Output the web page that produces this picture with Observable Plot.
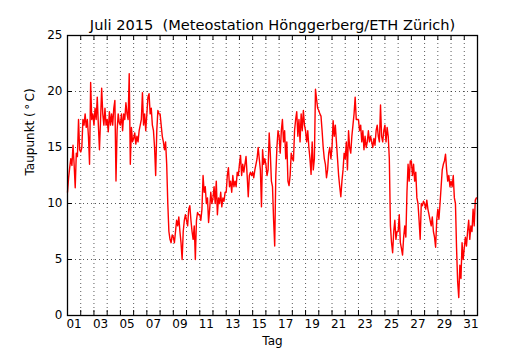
<!DOCTYPE html>
<html>
<head>
<meta charset="utf-8">
<script src="https://cdn.jsdelivr.net/npm/d3@7"></script>
<script src="https://cdn.jsdelivr.net/npm/@observablehq/plot@0.6"></script>
<style>
  html, body { margin: 0; padding: 0; background: #fff; }
</style>
</head>
<body>
<div id="chart"></div>
<script>
// Dew point (°C), Meteostation Hönggerberg, July 2015, every 2 hours from 1 July 00:00
const stepHours = 2;
const dewpoint = [
  11.0, 12.3, 13.2, 14.0, 13.4, 15.2, 13.5, 11.4, 14.5, 14.2, 17.5, 14.8, // 01
  14.6, 15.0, 17.5, 17.0, 18.0, 16.8, 17.5, 16.0, 13.5, 20.8, 17.5, 18.0, // 02
  17.0, 18.5, 17.5, 19.5, 17.0, 14.8, 17.5, 20.3, 18.0, 17.0, 18.5, 17.0, // 03
  17.5, 16.4, 18.2, 17.0, 18.0, 17.0, 18.5, 19.2, 12.0, 16.5, 18.0, 17.2, // 04
  17.0, 18.0, 16.5, 18.0, 17.5, 19.0, 18.0, 17.5, 21.6, 13.5, 16.8, 15.5, // 05
  15.8, 16.3, 15.3, 16.0, 15.5, 16.5, 17.0, 17.5, 19.9, 17.0, 18.0, 16.5, // 06
  18.0, 19.5, 19.8, 18.0, 18.5, 17.0, 16.5, 15.0, 12.5, 16.5, 18.3, 18.0, // 07
  18.0, 17.0, 16.0, 15.5, 14.8, 15.5, 13.5, 10.0, 7.5, 6.8, 6.5, 7.2,     // 08
  7.0, 6.5, 7.5, 8.5, 8.0, 8.8, 7.5, 6.5, 5.0, 7.5, 8.5, 9.0,             // 09
  8.5, 8.0, 9.5, 9.8, 8.5, 7.5, 6.8, 8.0, 5.0, 8.5, 9.2, 9.0,             // 10
  9.0, 8.5, 9.5, 12.5, 11.0, 11.5, 10.0, 10.5, 8.3, 9.5, 11.0, 10.0,      // 11
  10.5, 11.5, 10.0, 12.0, 9.0, 10.5, 10.0, 11.0, 9.7, 10.5, 10.2, 11.0,   // 12
  11.0, 12.5, 13.2, 11.5, 12.0, 11.0, 12.5, 11.5, 12.0, 11.5, 12.8, 12.5, // 13
  13.5, 14.3, 12.5, 13.5, 12.8, 13.5, 14.2, 12.5, 10.6, 12.5, 12.8, 12.5, // 14
  12.8, 12.3, 13.0, 13.5, 14.0, 15.0, 14.0, 13.0, 9.7, 14.8, 13.5, 14.0,  // 15
  13.5, 12.5, 13.0, 16.3, 14.5, 12.0, 11.5, 8.5, 6.2, 12.5, 15.0, 16.5,   // 16
  16.0, 14.5, 16.5, 17.5, 15.5, 16.5, 14.0, 15.5, 12.0, 11.6, 12.5, 14.5, // 17
  14.0, 13.8, 16.5, 17.5, 18.2, 16.0, 17.5, 15.5, 18.0, 16.5, 18.3, 17.0, // 18
  16.5, 15.5, 16.5, 15.0, 14.0, 12.6, 15.5, 13.0, 14.0, 20.2, 19.3, 18.5, // 19
  18.3, 18.0, 17.8, 16.5, 15.0, 14.0, 13.5, 12.3, 13.0, 14.5, 15.0, 14.0, // 20
  15.0, 17.4, 16.0, 17.0, 15.5, 14.0, 12.5, 11.5, 10.6, 12.0, 13.0, 14.5, // 21
  14.0, 15.5, 13.0, 16.5, 15.0, 14.5, 16.0, 17.0, 18.0, 19.5, 17.5, 17.5, // 22
  17.5, 16.5, 17.0, 15.5, 16.5, 14.8, 16.0, 15.0, 15.5, 16.5, 15.5, 16.0, // 23
  15.5, 15.0, 15.8, 15.2, 16.5, 17.0, 16.0, 15.5, 18.8, 16.0, 15.5, 16.5, // 24
  17.0, 15.5, 16.8, 16.0, 14.0, 8.0, 6.5, 5.6, 7.5, 8.5, 6.8, 7.5,        // 25
  7.5, 9.0, 6.5, 6.0, 5.4, 7.0, 8.0, 7.0, 11.0, 13.5, 12.0, 13.8,         // 26
  13.8, 12.5, 13.5, 12.0, 12.8, 10.5, 10.0, 8.5, 6.8, 10.0, 9.8, 10.2,    // 27
  10.0, 9.5, 10.3, 9.5, 9.0, 8.5, 8.0, 8.8, 7.5, 7.0, 6.1, 8.5,           // 28
  9.5, 8.6, 10.0, 11.5, 13.0, 13.5, 13.8, 14.4, 13.0, 12.0, 12.5, 11.5,   // 29
  12.0, 11.5, 12.5, 10.5, 10.0, 6.0, 3.0, 1.6, 4.5, 3.3, 6.5, 5.0,        // 30
  6.0, 7.0, 6.2, 7.5, 8.5, 6.8, 8.0, 7.5, 9.5, 8.0, 10.3, 10.5            // 31
];

const xTickLabels = ["01","03","05","07","09","11","13","15","17","19","21","23","25","27","29","31"];
const yTicks = [0, 5, 10, 15, 20, 25];
const yGrid = [5, 10, 15, 20];
const titleText = "Juli 2015 \u00a0(Meteostation Hönggerberg/ETH Zürich)";
const xLabel = "Tag";
const yLabel = "Taupunkt (\u2009°\u2009C)";

const start = new Date(Date.UTC(2015, 6, 1));
const end = new Date(Date.UTC(2015, 7, 1));
const data = dewpoint.map((v, i) => ({t: new Date(start.getTime() + i * stepHours * 3600e3), v}));
const dayBounds = d3.utcDay.range(start, new Date(end.getTime() + 1));
const dayInner = dayBounds.slice(1, -1);

const W = 530, H = 350;
const mL = 67, mR = 53, mT = 35, mB = 35;
const frameW = W - mL - mR, frameH = H - mT - mB;
const tickLen = 5;
const dotted = {stroke: "#000", strokeOpacity: 0.65, strokeWidth: 1, strokeDasharray: "1,3"};

const chart = Plot.plot({
  width: W,
  height: H,
  marginLeft: mL,
  marginRight: mR,
  marginTop: mT,
  marginBottom: mB,
  style: {fontFamily: "'DejaVu Sans', sans-serif", fontSize: "12px", background: "#fff", color: "#000"},
  x: {type: "utc", domain: [start, end], axis: null},
  y: {domain: [0, 25], axis: null},
  marks: [
    // dotted grid
    Plot.ruleX(dayInner, {x: d => d, ...dotted}),
    Plot.ruleY(yGrid, {y: d => d, ...dotted}),
    // data line
    Plot.lineY(data, {x: "t", y: "v", stroke: "#ff0000", strokeWidth: 1.4}),
    // inward ticks (bottom/top)
    Plot.ruleX(dayBounds, {x: d => d, insetTop: frameH - tickLen, stroke: "#000"}),
    Plot.ruleX(dayBounds, {x: d => d, insetBottom: frameH - tickLen, stroke: "#000"}),
    // inward ticks (left/right)
    Plot.ruleY(yTicks, {y: d => d, insetRight: frameW - tickLen, stroke: "#000"}),
    Plot.ruleY(yTicks, {y: d => d, insetLeft: frameW - tickLen, stroke: "#000"}),
    // frame
    Plot.frame({stroke: "#000", strokeWidth: 1.3}),
    // tick labels
    Plot.text(xTickLabels, {x: d => new Date(Date.UTC(2015, 6, +d, 12)), frameAnchor: "bottom", dy: 12, text: d => d, fontSize: 12, fill: "#000"}),
    Plot.text(yTicks, {y: d => d, frameAnchor: "left", dx: -5, textAnchor: "end", text: d => String(d), fontSize: 12, fill: "#000"}),
    // axis labels
    Plot.text([xLabel], {frameAnchor: "bottom", dy: 29, text: d => d, fontSize: 12, fill: "#000"}),
    Plot.text([yLabel], {frameAnchor: "left", dx: -37, rotate: -90, text: d => d, fontSize: 12, fill: "#000"}),
    // title
    Plot.text([titleText], {frameAnchor: "top", dy: -16, text: d => d, fontSize: 14.6, fill: "#000"})
  ]
});
document.getElementById("chart").appendChild(chart);
</script>
</body>
</html>
